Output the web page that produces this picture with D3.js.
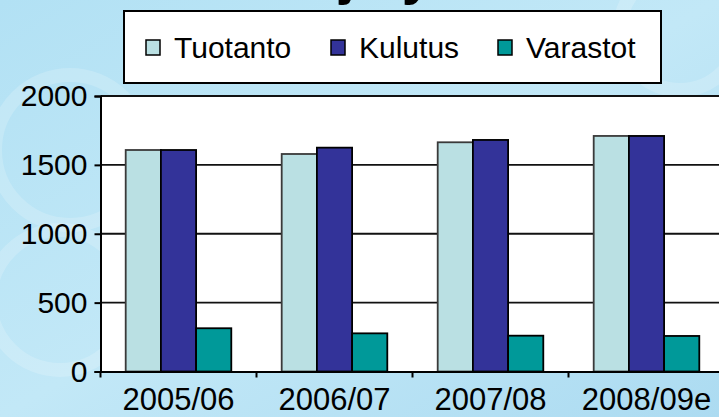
<!DOCTYPE html>
<html>
<head>
<meta charset="utf-8">
<script src="https://cdn.jsdelivr.net/npm/d3@7/dist/d3.min.js"></script>
<style>
  html, body { margin: 0; padding: 0; overflow: hidden; }
  svg { display: block; font-family: "Liberation Sans", Arial, sans-serif; }
</style>
</head>
<body>
<svg id="chart" width="719" height="417"></svg>
<script>
var categories = ["2005/06", "2006/07", "2007/08", "2008/09e"];
var seriesNames = ["Tuotanto", "Kulutus", "Varastot"];
var tuotanto = [1608, 1579, 1664, 1710];
var kulutus = [1608, 1625, 1681, 1710];
var varastot = [314, 277, 260, 258];
var yTicks = [0, 500, 1000, 1500, 2000];
var colors = ["#bae0e3", "#333399", "#009999"];
var title = "Vilja yhteensä";

var seriesValues = [tuotanto, kulutus, varastot];

var W = 719, H = 417;
var plotLeft = 100.5, plotTop = 96, plotBottom = 371.5, step = 156;

var svg = d3.select("#chart");

// background
var defs = svg.append("defs");
var grad = defs.append("linearGradient").attr("id", "bg").attr("x1", 0).attr("y1", 0).attr("x2", 1).attr("y2", 1);
grad.append("stop").attr("offset", "0%").attr("stop-color", "#b2e1f4");
grad.append("stop").attr("offset", "50%").attr("stop-color", "#c2e8f7");
grad.append("stop").attr("offset", "100%").attr("stop-color", "#acdbf1");
svg.append("rect").attr("width", W).attr("height", H).attr("fill", "url(#bg)");

// faint rings in the backdrop
var rings = [[70, 150, 75], [60, 300, 70], [680, 30, 60]];
svg.selectAll("circle.ring").data(rings).enter().append("circle")
	.attr("class", "ring")
	.attr("cx", function (d) { return d[0]; })
	.attr("cy", function (d) { return d[1]; })
	.attr("r", function (d) { return d[2]; })
	.attr("fill", "none")
	.attr("stroke", "#ffffff")
	.attr("stroke-opacity", 0.18)
	.attr("stroke-width", 14);

// title, mostly above the top edge
svg.append("text").attr("x", 272).attr("y", -7)
	.attr("font-size", 56).attr("font-weight", "bold").attr("fill", "#000")
	.text(title);

var x = d3.scaleBand().domain(categories).range([plotLeft, plotLeft + step * categories.length]).padding(0);
var x1 = d3.scaleBand().domain(seriesNames).range([0, x.bandwidth()]).paddingInner(0).paddingOuter(0.716);
var y = d3.scaleLinear().domain([0, 2000]).range([plotBottom, plotTop]);

// plot area
svg.append("rect").attr("x", plotLeft).attr("y", plotTop)
	.attr("width", W - plotLeft).attr("height", plotBottom - plotTop)
	.attr("fill", "#ffffff");

// gridlines
svg.append("g").selectAll("line").data(yTicks.slice(1)).enter().append("line")
	.attr("x1", plotLeft).attr("x2", W)
	.attr("y1", function (d) { return y(d); })
	.attr("y2", function (d) { return y(d); })
	.attr("stroke", "#111").attr("stroke-width", 1.8);

// bars
var groups = svg.append("g").selectAll("g").data(categories).enter().append("g")
	.attr("transform", function (d) { return "translate(" + x(d) + ",0)"; });

groups.selectAll("rect").data(function (d, i) {
	return seriesNames.map(function (s, j) { return { name: s, value: seriesValues[j][i], k: j }; });
}).enter().append("rect")
	.attr("x", function (d) { return x1(d.name); })
	.attr("y", function (d) { return y(d.value); })
	.attr("width", x1.bandwidth())
	.attr("height", function (d) { return y(0) - y(d.value); })
	.attr("fill", function (d) { return colors[d.k]; })
	.attr("stroke", function (d) { return d.k == 0 ? "#3a3a3a" : "#000"; })
	.attr("stroke-width", 1.8);

// y axis
var yAxis = svg.append("g").attr("transform", "translate(" + plotLeft + ",0)")
	.call(d3.axisLeft(y).tickValues(yTicks).tickSize(6).tickPadding(7).tickFormat(d3.format("d")));
yAxis.select(".domain").attr("stroke", "#000").attr("stroke-width", 2);
yAxis.selectAll(".tick line").attr("stroke", "#000").attr("stroke-width", 2);
yAxis.selectAll(".tick text").attr("font-size", 30).attr("fill", "#000")
	.attr("font-family", "Liberation Sans, Arial, sans-serif");

// x axis
var xAxis = svg.append("g").attr("transform", "translate(0," + plotBottom + ")")
	.call(d3.axisBottom(x).tickSize(0).tickPadding(16));
xAxis.select(".domain").attr("stroke", "#000").attr("stroke-width", 2);
xAxis.selectAll(".tick text").attr("font-size", 31).attr("fill", "#000")
	.attr("font-family", "Liberation Sans, Arial, sans-serif");

// category separators
svg.append("g").selectAll("line").data(categories).enter().append("line")
	.attr("x1", function (d) { return x(d); })
	.attr("x2", function (d) { return x(d); })
	.attr("y1", plotBottom).attr("y2", plotBottom + 6)
	.attr("stroke", "#000").attr("stroke-width", 2);

// legend
var legend = svg.append("g");
legend.append("rect").attr("x", 124).attr("y", 11).attr("width", 537).attr("height", 72)
	.attr("fill", "#fff").attr("stroke", "#000").attr("stroke-width", 2);
var legX = [146, 331, 498];
var items = legend.selectAll("g.item").data(seriesNames).enter().append("g")
	.attr("class", "item")
	.attr("transform", function (d, i) { return "translate(" + legX[i] + ",0)"; });
items.append("rect").attr("x", 0).attr("y", 40).attr("width", 14).attr("height", 15)
	.attr("fill", function (d, i) { return colors[i]; })
	.attr("stroke", "#000").attr("stroke-width", 1.5);
items.append("text").attr("x", 28).attr("y", 58).attr("font-size", 30).attr("fill", "#000")
	.text(function (d) { return d; });
</script>
</body>
</html>
